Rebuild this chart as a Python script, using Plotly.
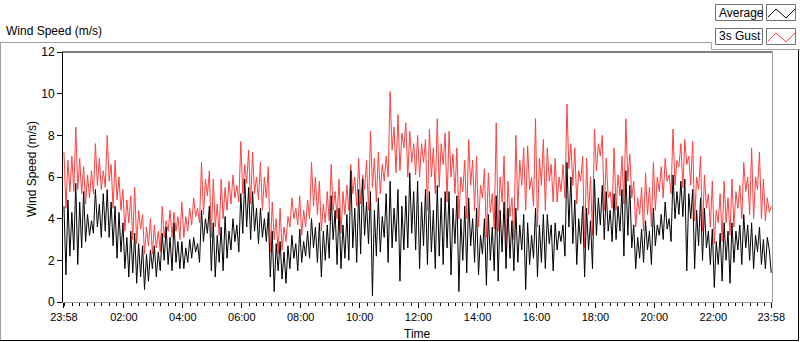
import plotly.graph_objects as go

# ---------------- data (4-minute samples from 23:58) ----------------
avg_speed = [
    4.6, 1.3, 4.9, 2.2, 4.3,  2.5, 5.7, 1.8, 4.8, 2.6,  5.3, 2.9, 4.2, 3.2, 3.9,
    3.3, 5.4, 3.6, 4.7, 3.1,  5.2, 3.4, 5.4, 3.1, 4.8,  2.7, 4.6, 2.1, 4.3, 2.4,
    3.8, 1.6, 3.1, 1.2, 3.4,  1.4, 3.3, 0.9, 2.8, 1.2,  2.7, 0.6, 2.3, 1.0, 2.5,
    1.6, 2.7, 1.2, 2.4, 1.5,  3.3, 2.0, 3.6, 1.8, 3.1,  1.5, 3.8, 1.9, 2.9, 1.6,
    2.9, 1.6, 2.6, 1.9, 3.0,  2.1, 3.1, 2.4, 2.8, 1.9,  4.4, 2.9, 4.0, 3.3, 4.6,
    1.5, 3.8, 1.2, 3.2, 1.9,  3.6, 1.5, 4.1, 2.1, 3.4,  2.5, 4.0, 2.9, 3.7, 2.4,
    5.2, 3.3, 5.9, 3.6, 5.5,  3.0, 5.3, 3.4, 4.5, 2.8,  4.5, 3.1, 4.0, 2.9, 4.3,
    1.2, 3.4, 0.5, 2.8, 1.5,  2.9, 1.1, 2.4, 0.9, 2.7,  1.6, 3.2, 2.1, 2.8, 1.5,
    3.5, 1.9, 2.9, 2.2, 3.4,  2.1, 4.0, 2.6, 3.6, 1.9,  3.8, 1.2, 3.4, 2.0, 3.7,
    2.1, 5.1, 3.0, 4.4, 1.8,  4.5, 1.6, 3.7, 2.1, 4.2,  2.0, 6.3, 2.6, 4.5, 1.9,
    5.4, 2.3, 5.9, 3.2, 4.8,  2.8, 5.3, 0.3, 4.4, 2.2,  5.0, 2.4, 4.1, 3.1, 5.2,
    1.9, 5.8, 2.6, 4.5, 2.9,  5.4, 1.0, 4.6, 2.5, 5.1,  2.6, 6.2, 3.3, 5.3, 2.5,
    5.8, 1.6, 4.8, 2.7, 5.4,  1.8, 5.3, 2.4, 4.4, 1.6,  5.6, 2.2, 5.0, 1.8, 5.3,
    2.6, 5.3, 1.3, 4.5, 2.8,  5.1, 0.5, 4.0, 2.0, 4.6,  1.4, 5.0, 2.7, 4.0, 1.9,
    4.5, 1.3, 3.2, 2.3, 4.0,  0.8, 4.2, 2.0, 3.6, 1.5,  5.1, 1.0, 4.4, 2.4, 4.8,
    1.6, 4.5, 2.1, 3.9, 1.5,  4.5, 1.9, 3.7, 2.5, 4.2,  0.6, 3.8, 1.8, 3.2, 2.1,
    4.5, 1.2, 3.7, 1.9, 4.2,  1.6, 4.2, 2.8, 3.7, 1.5,  3.8, 2.5, 3.4, 2.9, 3.7,
    2.2, 6.7, 3.6, 6.0, 2.8,  4.9, 1.8, 4.0, 2.8, 4.6,  1.2, 4.5, 2.5, 3.9, 1.6,
    5.9, 3.2, 5.0, 3.7, 5.6,  3.0, 5.3, 3.4, 4.4, 2.9,  5.2, 3.0, 4.6, 3.4, 5.4,
    2.2, 6.3, 3.2, 5.6, 2.6,  3.7, 1.6, 3.1, 2.1, 3.5,  1.9, 3.9, 2.5, 3.4, 1.8,
    4.5, 2.7, 3.7, 3.2, 4.2,  3.0, 4.8, 3.5, 4.0, 2.9,  6.1, 4.0, 5.3, 4.2, 5.8,
    4.1, 5.9, 1.5, 5.2, 4.0,  5.4, 1.6, 4.4, 2.7, 5.0,  2.0, 4.5, 2.6, 3.4, 1.8,
    3.5, 0.7, 2.9, 1.8, 3.3,  1.0, 3.8, 2.0, 3.4, 0.9,  3.8, 1.9, 3.4, 2.5, 3.7,
    1.8, 4.2, 2.6, 3.7, 2.0,  3.8, 1.6, 3.2, 2.4, 3.6,  1.8, 3.0, 1.6, 3.1, 2.5,
    1.4,
]

gust_speed = [
    7.2, 4.5, 6.8, 5.3, 7.0,  5.3, 8.4, 5.4, 6.9, 5.2,  6.5, 4.7, 6.1, 5.0, 6.3,
    5.2, 7.6, 5.6, 6.9, 5.4,  6.3, 5.5, 8.0, 5.8, 6.6,  4.5, 6.8, 4.9, 6.0, 4.4,
    5.4, 3.4, 4.9, 3.8, 5.1,  3.0, 5.5, 2.8, 4.4, 3.5,  4.2, 2.3, 3.6, 2.7, 4.0,
    2.3, 3.7, 2.6, 3.4, 2.4,  4.6, 3.1, 3.9, 3.4, 4.4,  3.1, 4.3, 3.4, 4.1, 3.0,
    4.8, 3.1, 4.1, 3.4, 4.5,  3.7, 5.0, 4.1, 4.5, 3.8,  6.7, 4.2, 5.9, 5.1, 6.3,
    3.1, 5.9, 3.6, 4.7, 3.2,  5.9, 4.0, 5.5, 4.4, 5.8,  4.7, 6.1, 5.0, 5.6, 4.8,
    7.7, 5.2, 6.6, 5.7, 7.3,  4.7, 7.2, 5.2, 6.0, 4.9,  6.7, 4.4, 6.0, 5.0, 6.5,
    2.4, 4.8, 3.0, 4.0, 2.3,  4.5, 2.5, 3.6, 2.9, 4.1,  3.6, 5.0, 4.0, 4.5, 3.7,
    5.1, 3.2, 4.4, 3.6, 4.9,  4.0, 6.7, 4.6, 6.0, 4.2,  5.8, 3.4, 4.7, 3.8, 5.3,
    3.9, 6.6, 4.4, 5.3, 4.0,  5.9, 3.3, 5.3, 4.2, 5.6,  4.4, 6.6, 5.2, 6.0, 4.6,
    6.9, 4.7, 6.1, 5.4, 6.8,  4.4, 8.2, 5.5, 6.9, 4.8,  7.2, 5.2, 6.6, 5.8, 7.0,
    6.0, 10.1, 7.3, 8.4, 6.2, 9.0, 6.3, 8.1, 7.4, 8.6,  6.0, 8.2, 6.7, 7.6, 6.1,
    8.0, 6.0, 7.6, 6.7, 7.8,  4.4, 8.3, 6.0, 7.4, 5.2,  8.8, 5.5, 7.6, 6.6, 8.1,
    4.8, 8.2, 6.0, 7.1, 5.2,  7.4, 4.0, 6.0, 5.3, 6.8,  4.0, 7.8, 5.6, 6.8, 4.4,
    7.0, 3.6, 5.6, 5.0, 6.4,  3.1, 6.2, 4.3, 5.2, 3.5,  8.6, 3.4, 6.0, 4.8, 7.0,
    2.4, 5.8, 4.1, 5.0, 3.0,  8.0, 4.4, 6.8, 5.6, 7.4,  4.4, 7.5, 5.4, 6.0, 4.6,
    8.8, 3.6, 6.9, 5.6, 7.8,  4.4, 7.4, 5.8, 6.6, 4.8,  6.9, 4.8, 6.0, 5.3, 6.6,
    5.0, 9.5, 6.4, 7.6, 5.6,  7.4, 4.7, 6.3, 5.8, 7.0,  2.6, 6.9, 4.2, 6.0, 3.2,
    8.3, 6.3, 7.6, 7.0, 8.0,  4.4, 6.9, 5.0, 5.3, 4.5,  7.4, 4.4, 6.1, 5.1, 7.0,
    4.7, 8.8, 5.8, 7.1, 5.0,  5.8, 3.6, 5.0, 4.2, 5.5,  3.4, 6.2, 4.2, 5.5, 3.6,
    6.7, 4.4, 6.0, 5.3, 6.5,  5.0, 6.9, 5.8, 6.1, 5.2,  8.3, 5.6, 6.8, 6.5, 7.6,
    5.5, 7.8, 6.6, 7.0, 5.6,  7.7, 3.9, 6.0, 5.4, 7.0,  3.4, 6.1, 4.5, 5.2, 3.6,
    5.8, 2.8, 4.4, 3.8, 5.2,  2.9, 5.8, 3.8, 5.0, 3.2,  5.9, 3.6, 5.3, 4.5, 5.6,
    4.0, 6.7, 5.3, 6.0, 4.2,  7.4, 4.0, 6.0, 5.4, 7.2,  4.0, 5.9, 3.9, 5.0, 4.3,
    4.6,
]

tick_labels = ["23:58", "02:00", "04:00", "06:00", "08:00", "10:00", "12:00",
               "14:00", "16:00", "18:00", "20:00", "22:00", "23:58"]
tick_minutes = [0, 122, 242, 362, 482, 602, 722, 842, 962, 1082, 1202, 1322, 1440]
y_ticks = [0, 2, 4, 6, 8, 10, 12]

SAMPLE_MIN = 4
minutes = [i * SAMPLE_MIN for i in range(len(avg_speed))]

# ---------------- figure ----------------
W, H = 800, 342
L, R, T, B = 63, 772, 52, 302
FONT = "Liberation Sans"


def fx(x):
    return (x - L) / (R - L)


def fy(y):
    return (B - y) / (B - T)


fig = go.Figure()
fig.add_trace(go.Scatter(x=minutes, y=gust_speed, mode="lines", name="3s Gust",
                         line=dict(color="#ff4040", width=1), showlegend=False))
fig.add_trace(go.Scatter(x=minutes, y=avg_speed, mode="lines", name="Average",
                         line=dict(color="#000000", width=1), showlegend=False))

fig.update_layout(
    width=W, height=H,
    margin=dict(l=L, r=W - R, t=T, b=H - B, pad=0),
    paper_bgcolor="white", plot_bgcolor="white",
    font=dict(family=FONT, size=11, color="black"),
    xaxis=dict(range=[-2, 1441.5], tickvals=tick_minutes, ticktext=tick_labels,
               showgrid=False, zeroline=False, showline=True, linecolor="#a0a0a0",
               linewidth=1, ticks="outside", ticklen=5, tickcolor="black",
               tickfont=dict(size=11),
               minor=dict(tick0=2, dtick=15, ticks="outside", ticklen=3,
                          tickcolor="black", showgrid=False)),
    yaxis=dict(range=[0, 12], tickvals=y_ticks, showgrid=False, zeroline=False,
               showline=True, linecolor="black", linewidth=1, ticks="outside",
               ticklen=5, tickcolor="black", tickfont=dict(size=12)),
)

shapes = []
# plot frame top (black) and right (gray)
shapes.append(dict(type="line", xref="paper", yref="paper", x0=fx(62), x1=fx(772.5),
                   y0=fy(52), y1=fy(52), line=dict(color="black", width=1)))
shapes.append(dict(type="line", xref="paper", yref="paper", x0=fx(772.5), x1=fx(772.5),
                   y0=fy(52), y1=fy(302.5), line=dict(color="#a0a0a0", width=1)))
# outer panel frame
shapes.append(dict(type="line", xref="paper", yref="paper", x0=fx(0), x1=fx(711),
                   y0=fy(42.5), y1=fy(42.5), line=dict(color="#a0a0a0", width=1)))
shapes.append(dict(type="line", xref="paper", yref="paper", x0=fx(0.5), x1=fx(0.5),
                   y0=fy(42.5), y1=fy(340.5), line=dict(color="#a0a0a0", width=1)))
shapes.append(dict(type="line", xref="paper", yref="paper", x0=fx(0), x1=fx(798.5),
                   y0=fy(340.5), y1=fy(340.5), line=dict(color="black", width=1)))
shapes.append(dict(type="line", xref="paper", yref="paper", x0=fx(798.5), x1=fx(798.5),
                   y0=fy(49.5), y1=fy(340.5), line=dict(color="black", width=1)))
shapes.append(dict(type="line", xref="paper", yref="paper", x0=fx(711.5), x1=fx(711.5),
                   y0=fy(42.5), y1=fy(49.5), line=dict(color="#a0a0a0", width=1)))
shapes.append(dict(type="line", xref="paper", yref="paper", x0=fx(711.5), x1=fx(800),
                   y0=fy(49.5), y1=fy(49.5), line=dict(color="#a0a0a0", width=1)))

# legend boxes
legend_items = [("Average", "black", 4), ("3s Gust", "#ff4040", 28)]
for label, color, top in legend_items:
    shapes.append(dict(type="rect", xref="paper", yref="paper",
                       x0=fx(715.5), x1=fx(762.5), y0=fy(top + 0.5), y1=fy(top + 16.5),
                       line=dict(color="#707070", width=1), fillcolor="white"))
    shapes.append(dict(type="rect", xref="paper", yref="paper",
                       x0=fx(766.5), x1=fx(795.5), y0=fy(top + 0.5), y1=fy(top + 16.5),
                       line=dict(color="#707070", width=1), fillcolor="white"))
    pts = [(768, top + 13), (776, top + 5), (786, top + 14), (795, top + 5)]
    path = "M " + " L ".join(f"{fx(a)},{fy(b)}" for a, b in pts)
    shapes.append(dict(type="path", xref="paper", yref="paper", path=path,
                       line=dict(color=color, width=1)))
    fig.add_annotation(xref="paper", yref="paper", x=fx(717), y=fy(top + 8.5),
                       text=label, showarrow=False, xanchor="left", yanchor="middle",
                       font=dict(family=FONT, size=12, color="black"))

fig.update_layout(shapes=shapes)

# titles
fig.add_annotation(xref="paper", yref="paper", x=fx(4), y=fy(31), text="Wind Speed (m/s)",
                   showarrow=False, xanchor="left", yanchor="middle",
                   font=dict(family=FONT, size=12, color="black"))
fig.add_annotation(xref="paper", yref="paper", x=fx(32), y=fy(169), text="Wind Speed (m/s)",
                   showarrow=False, textangle=-90, xanchor="center", yanchor="middle",
                   font=dict(family=FONT, size=12, color="black"))
fig.add_annotation(xref="paper", yref="paper", x=fx(417), y=fy(334), text="Time",
                   showarrow=False, xanchor="center", yanchor="middle",
                   font=dict(family=FONT, size=12, color="black"))

fig.write_html("out.html", config={"displayModeBar": False},
               post_script="document.body.style.margin='0';document.body.style.overflow='hidden';")
